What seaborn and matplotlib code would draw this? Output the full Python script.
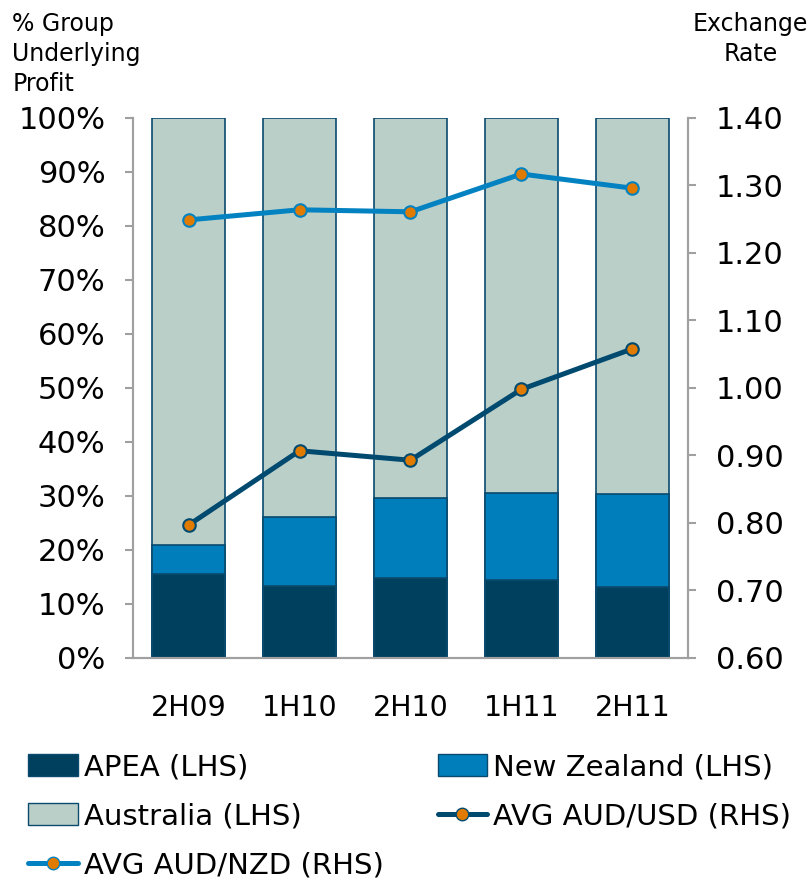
import numpy as np
import pandas as pd
import matplotlib
matplotlib.use("Agg")
import matplotlib.pyplot as plt
from matplotlib.patches import Patch
from matplotlib.lines import Line2D
import seaborn as sns

periods = ["2H09", "1H10", "2H10", "1H11", "2H11"]
apea = [15.6, 13.3, 14.8, 14.4, 13.1]
new_zealand = [5.3, 12.8, 14.8, 16.2, 17.3]
australia = [79.1, 73.9, 70.4, 69.4, 69.6]
aud_usd = [0.797, 0.907, 0.893, 0.998, 1.058]
aud_nzd = [1.249, 1.264, 1.261, 1.317, 1.296]

left_ticks = [0, 10, 20, 30, 40, 50, 60, 70, 80, 90, 100]
right_ticks = [0.60, 0.70, 0.80, 0.90, 1.00, 1.10, 1.20, 1.30, 1.40]

c_apea = "#00405f"
c_nz = "#007dbb"
c_aus = "#bbcfc9"
c_edge = "#0a4a6e"
c_usd = "#004a70"
c_nzd = "#0382c2"
c_marker = "#e07b00"
c_axis = "#a0a0a0"

sns.set_style("white")
plt.rcParams["font.family"] = ["DejaVu Sans"]
plt.rcParams["text.color"] = "black"
plt.rcParams["xtick.color"] = "black"
plt.rcParams["ytick.color"] = "black"
plt.rcParams["axes.labelcolor"] = "black"

df = pd.DataFrame({"period": periods,
                   "apea": apea, "nz": new_zealand, "aus": australia})
df["cum_nz"] = df["apea"] + df["nz"]
df["cum_aus"] = df["cum_nz"] + df["aus"]

fig = plt.figure(figsize=(8.12, 8.85), dpi=100)
ax = fig.add_axes([0.164, 0.2565, 0.683, 0.6102])

bw = 0.66
for col, color in [("cum_aus", c_aus), ("cum_nz", c_nz), ("apea", c_apea)]:
    sns.barplot(data=df, x="period", y=col, color=color, width=bw,
                edgecolor=c_edge, linewidth=1.2, saturation=1, ax=ax,
                errorbar=None)

ax.set_xlim(-0.5, len(periods) - 0.5)
ax.set_ylim(0, 100)
ax.set_yticks(left_ticks)
ax.set_yticklabels([f"{v}%" for v in left_ticks], fontsize=22)
ax.set_xlabel("")
ax.set_ylabel("")
ax.set_xticks(range(len(periods)))
ax.set_xticklabels(periods, fontsize=20.5)
ax.tick_params(axis="x", which="major", length=0, pad=26)
ax.set_xticks(np.arange(-0.5, len(periods)), minor=True)
ax.tick_params(axis="x", which="minor", length=8, width=1.5, color=c_axis, direction="out")
ax.tick_params(axis="y", length=6, width=1.5, color=c_axis, direction="out", pad=14)

ax2 = ax.twinx()
x_pos = np.arange(len(periods))
sns.lineplot(x=x_pos, y=aud_usd, ax=ax2, color=c_usd, linewidth=3.6,
             marker="o", markersize=9, markerfacecolor=c_marker,
             markeredgecolor=c_usd, markeredgewidth=1.5)
sns.lineplot(x=x_pos, y=aud_nzd, ax=ax2, color=c_nzd, linewidth=3.6,
             marker="o", markersize=9, markerfacecolor=c_marker,
             markeredgecolor=c_nzd, markeredgewidth=1.5)
ax2.set_ylim(0.60, 1.40)
ax2.set_yticks(right_ticks)
ax2.set_yticklabels([f"{v:.2f}" for v in right_ticks], fontsize=22)
ax2.tick_params(axis="y", length=6, width=1.5, color=c_axis, direction="out", pad=14)
ax2.set_xlim(-0.5, len(periods) - 0.5)

for a in (ax, ax2):
    a.spines["top"].set_visible(False)
    for s in ("left", "right", "bottom"):
        a.spines[s].set_color(c_axis)
        a.spines[s].set_linewidth(1.5)

fig.text(0.015, 0.986, "% Group\nUnderlying\nProfit", fontsize=17,
         ha="left", va="top", linespacing=1.3)
fig.text(0.995, 0.986, "Exchange\nRate", fontsize=17,
         ha="right", va="top", linespacing=1.3, multialignment="center")

h_apea = Patch(facecolor=c_apea, edgecolor=c_edge, label="APEA (LHS)")
h_nz = Patch(facecolor=c_nz, edgecolor=c_edge, label="New Zealand (LHS)")
h_aus = Patch(facecolor=c_aus, edgecolor=c_edge, label="Australia (LHS)")
h_usd = Line2D([], [], color=c_usd, lw=3.6, marker="o", markersize=9,
               markerfacecolor=c_marker, markeredgecolor=c_usd, label="AVG AUD/USD (RHS)")
h_nzd = Line2D([], [], color=c_nzd, lw=3.6, marker="o", markersize=9,
               markerfacecolor=c_marker, markeredgecolor=c_nzd, label="AVG AUD/NZD (RHS)")
fig.legend(handles=[h_apea, h_aus, h_nzd, h_nz, h_usd], ncol=2,
           loc="upper left", bbox_to_anchor=(0.035, 0.149), frameon=False,
           fontsize=21, handlelength=1.7, handleheight=0.75, handletextpad=0.2,
           columnspacing=1.85, labelspacing=0.72, borderaxespad=0, borderpad=0)

fig.savefig("out.png", dpi=100)
